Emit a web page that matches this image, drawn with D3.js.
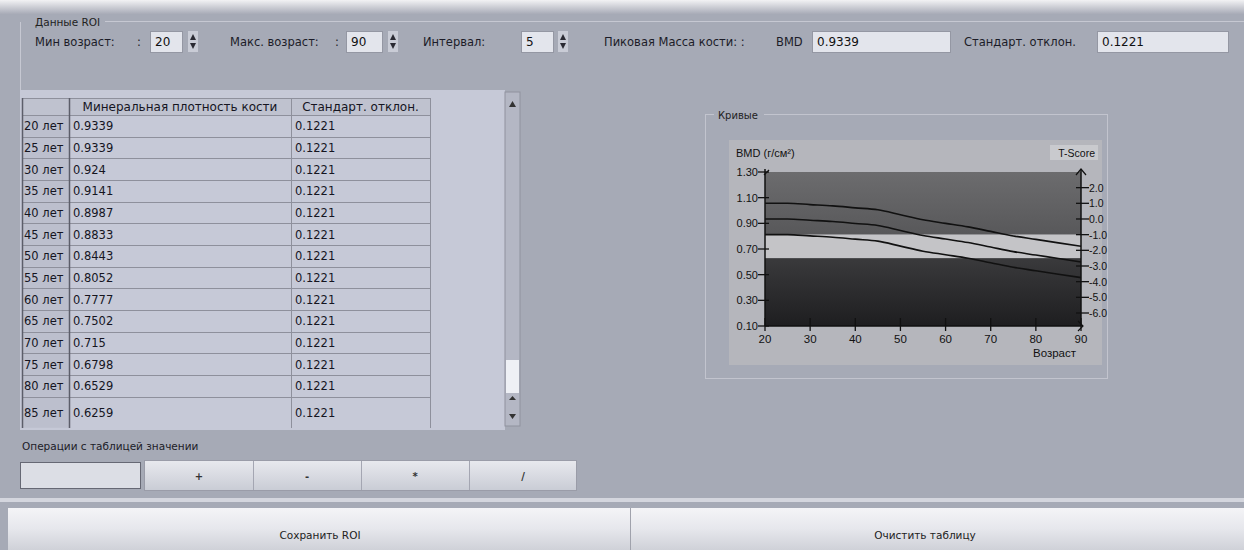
<!DOCTYPE html>
<html><head><meta charset="utf-8">
<script src="https://cdn.jsdelivr.net/npm/d3@7/dist/d3.min.js"></script>
<style>html,body{margin:0;padding:0;background:#a6aab6;overflow:hidden}svg{display:block}</style>
</head><body><svg id="c" width="1244" height="550"></svg>
<script>
// ---------- data ----------
const ages = [20,25,30,35,40,45,50,55,60,65,70,75,80,85,90];
const bmdValues = [0.9339,0.9339,0.924,0.9141,0.8987,0.8833,0.8443,0.8052,0.7777,0.7502,0.715,0.6798,0.6529,0.6259,0.599];
const sdValues = [0.1221,0.1221,0.1221,0.1221,0.1221,0.1221,0.1221,0.1221,0.1221,0.1221,0.1221,0.1221,0.1221,0.1221,0.1221];
const bmdTicks = [0.10,0.30,0.50,0.70,0.90,1.10,1.30];
const ageTicks = [20,30,40,50,60,70,80,90];
const tScoreTicks = [2,1,0,-1,-2,-3,-4,-5,-6];
const tBandLimits = [-1,-2.5];
const sdOffsets = [1,0,-1];
const peakBMD = 0.9339, peakSD = 0.1221;
const minAge = 20, maxAge = 90, ageStep = 5;
const columnHeaders = ["", "Минеральная плотность кости", "Стандарт. отклон."];
const opButtons = ["+", "-", "*", "/"];

const svg = d3.select("#c");
const UI = "DejaVu Sans, Tahoma, sans-serif";
const CH = "Liberation Sans, Arial, sans-serif";
const defs = svg.append("defs");
function grad(id, stops){
  const g = defs.append("linearGradient").attr("id",id).attr("x1",0).attr("y1",0).attr("x2",0).attr("y2",1);
  stops.forEach(s=>g.append("stop").attr("offset",s[0]).attr("stop-color",s[1]));
}
grad("gTop",[[0,"#6c6c6e"],[1,"#58585a"]]);
grad("gLow",[[0,"#3a3a3c"],[1,"#1e1e20"]]);
grad("gBtn",[[0,"#f4f4f7"],[0.5,"#e6e7ec"],[1,"#cfd1d8"]]);
grad("gSeg",[[0,"#e8e9ee"],[1,"#c9ccd5"]]);
grad("gHead",[[0,"#f2f2f4"],[1,"#a8abb7"]]);

// background
svg.append("rect").attr("width",1244).attr("height",550).attr("fill","#a6aab6");
svg.append("rect").attr("width",1244).attr("height",14).attr("fill","url(#gHead)");

// group title
svg.append("text").attr("x",35).attr("y",26).attr("font-family",UI).attr("font-size",10.5).attr("fill","#222").text("Данные ROI");
svg.append("line").attr("x1",105).attr("x2",1244).attr("y1",21.5).attr("y2",21.5).attr("stroke","#c6c8d2");
svg.append("line").attr("x1",20.5).attr("x2",20.5).attr("y1",22).attr("y2",95).attr("stroke","#c6c8d2");

// top row controls
function label(x,y,t,size){svg.append("text").attr("x",x).attr("y",y).attr("font-family",UI).attr("font-size",size||11.5).attr("fill","#1c1c28").text(t);}
function box(x,y,w,h,t){
  svg.append("rect").attr("x",x+.5).attr("y",y+.5).attr("width",w).attr("height",h).attr("fill","#e3e5ec").attr("stroke","#9497a3");
  if(t!==undefined) svg.append("text").attr("x",x+5).attr("y",y+h/2+4.5).attr("font-family",UI).attr("font-size",12).attr("fill","#111").text(t);
}
function spinner(x,y){
  svg.append("rect").attr("x",x).attr("y",y).attr("width",10).attr("height",21).attr("fill","#c9ccd6");
  svg.append("path").attr("d",`M${x+2},${y+9}L${x+5},${y+3}L${x+8},${y+9}Z`).attr("fill","#2a2a33");
  svg.append("path").attr("d",`M${x+2},${y+12}L${x+5},${y+18}L${x+8},${y+12}Z`).attr("fill","#2a2a33");
}
label(35,46,"Мин возраст:"); label(137,46,":");
box(150,31,32,21,String(minAge)); spinner(188,31);
label(230,46,"Макс. возраст:"); label(335,46,":");
box(346,31,36,21,String(maxAge)); spinner(388,31);
label(423,46,"Интервал:");
box(521,31,32,21,String(ageStep)); spinner(558,31);
label(604,46,"Пиковая Масса кости: :");
label(776,46,"BMD");
box(812,31,138,21,String(peakBMD));
label(964,46,"Стандарт. отклон.");
box(1097,31,131,21,String(peakSD));

// ---------- table ----------
const tbl = svg.append("g");
tbl.append("rect").attr("x",20).attr("y",90).attr("width",485).attr("height",340).attr("fill","#c6c9d7");
const colX = [22,69,291,430];
const headerY = 98, headerH = 17, tableBottom = 428;
const rowH = ages.map((a,i)=> i===13 ? 31 : 21.67);
let yy = headerY+headerH; const rowY = rowH.map(h=>{const v=yy; yy+=h; return v;});
defs.append("clipPath").attr("id","tclip").append("rect").attr("x",20).attr("y",90).attr("width",485).attr("height",tableBottom-90);
const tg = tbl.append("g").attr("clip-path","url(#tclip)");
// header
tg.append("rect").attr("x",colX[0]).attr("y",headerY).attr("width",colX[3]-colX[0]).attr("height",headerH).attr("fill","#bfc2cf");
columnHeaders.forEach((h,i)=>{
  tg.append("text").attr("x",(colX[i]+colX[i+1])/2).attr("y",headerY+13).attr("text-anchor","middle")
    .attr("font-family",UI).attr("font-size",12).attr("fill","#15151f").text(h);
});
const idx = d => ages.indexOf(d);
const rows = tg.selectAll("g.row").data(ages).join("g").attr("class","row");
rows.append("rect").attr("x",colX[0]).attr("y",d=>rowY[idx(d)]).attr("width",colX[1]-colX[0]).attr("height",d=>rowH[idx(d)]).attr("fill","#bcbfcd");
const fullRows = rows.filter(d=>rowY[idx(d)]+rowH[idx(d)]<=tableBottom+2);
const ty = d => rowY[idx(d)]+rowH[idx(d)]/2+4.5;
fullRows.append("text").attr("x",colX[0]+2).attr("y",ty).attr("font-family",UI).attr("font-size",11.5).attr("fill","#15151f").text(d=>d+" лет");
fullRows.append("text").attr("x",colX[1]+4).attr("y",ty).attr("font-family",UI).attr("font-size",11.5).attr("fill","#15151f").text(d=>bmdValues[idx(d)]);
fullRows.append("text").attr("x",colX[2]+4).attr("y",ty).attr("font-family",UI).attr("font-size",11.5).attr("fill","#15151f").text(d=>sdValues[idx(d)]);
// grid lines
tg.selectAll("line.h").data([headerY].concat(rowY)).join("line").attr("x1",colX[0]).attr("x2",colX[3])
  .attr("y1",d=>Math.round(d)+.5).attr("y2",d=>Math.round(d)+.5).attr("stroke","#8e909c");
tg.selectAll("line.v").data(colX).join("line").attr("x1",d=>d+.5).attr("x2",d=>d+.5).attr("y1",headerY).attr("y2",430)
  .attr("stroke",(d,i)=>i<2?"#5c5e6a":"#8e909c").attr("stroke-width",(d,i)=>i<2?1.5:1);
// scrollbar
tbl.append("rect").attr("x",505).attr("y",92).attr("width",15).attr("height",334).attr("fill","#b4b7c4").attr("stroke","#8f929e");
tbl.append("rect").attr("x",506).attr("y",360).attr("width",13).attr("height",33).attr("fill","#eef0f5");
tbl.append("path").attr("d","M509,107L512.5,101L516,107Z").attr("fill","#333");
tbl.append("path").attr("d","M509,400L512.5,396L516,400Z M509,414L512.5,419L516,414Z").attr("fill","#333");

// operations
label(22,450,"Операции с таблицей значении",10.5);
svg.append("rect").attr("x",20.5).attr("y",462.5).attr("width",120).attr("height",26).attr("fill","#dcdee5").attr("stroke","#666874");
svg.append("rect").attr("x",144.5).attr("y",460.5).attr("width",432).attr("height",30).attr("fill","url(#gSeg)").attr("stroke","#9a9ca8");
opButtons.forEach((o,i)=>{
  const x0 = 145 + i*108;
  if(i>0) svg.append("line").attr("x1",x0+.5).attr("x2",x0+.5).attr("y1",461).attr("y2",490).attr("stroke","#a4a6b2");
  svg.append("text").attr("x",x0+54).attr("y",480).attr("text-anchor","middle").attr("font-family",UI).attr("font-size",10).attr("font-weight","bold").attr("fill","#333").text(o);
});

// bottom buttons
svg.append("rect").attr("x",0).attr("y",498).attr("width",1244).attr("height",4).attr("fill","#d4d6de");
svg.append("rect").attr("x",8).attr("y",508).attr("width",622).attr("height",42).attr("fill","url(#gBtn)");
svg.append("rect").attr("x",631).attr("y",508).attr("width",613).attr("height",42).attr("fill","url(#gBtn)");
svg.append("line").attr("x1",630.5).attr("x2",630.5).attr("y1",508).attr("y2",550).attr("stroke","#a0a2ac");
svg.append("text").attr("x",320).attr("y",539).attr("text-anchor","middle").attr("font-family",UI).attr("font-size",10.5).attr("fill","#222").text("Сохранить ROI");
svg.append("text").attr("x",925).attr("y",539).attr("text-anchor","middle").attr("font-family",UI).attr("font-size",10.5).attr("fill","#222").text("Очистить таблицу");

// ---------- chart group ----------
svg.append("rect").attr("x",705.5).attr("y",114.5).attr("width",402).attr("height",264).attr("fill","none").attr("stroke","#c2c4ce");
svg.append("rect").attr("x",714).attr("y",108).attr("width",50).attr("height",14).attr("fill","#a6aab6");
svg.append("text").attr("x",718).attr("y",119).attr("font-family",UI).attr("font-size",10).attr("fill","#222").text("Кривые");
svg.append("rect").attr("x",729).attr("y",140).attr("width",373).attr("height",225).attr("fill","#b5b6bc");
svg.append("rect").attr("x",1050).attr("y",145).attr("width",48).attr("height",15).attr("fill","#c9cace");

const x = d3.scaleLinear().domain([minAge,maxAge]).range([765,1081]);
const y = d3.scaleLinear().domain([bmdTicks[0],bmdTicks[bmdTicks.length-1]]).range([326,172]);
const t = d3.scaleLinear().domain(y.domain().map(v=>(v-peakBMD)/peakSD)).range(y.range());
const [yMin,yMax] = y.domain();
const b1 = peakBMD + tBandLimits[0]*peakSD, b2 = peakBMD + tBandLimits[1]*peakSD;
const bands = [[b1,yMax,"url(#gTop)"],[b2,b1,"#c4c4c7"],[yMin,b2,"url(#gLow)"]];
svg.append("g").selectAll("rect").data(bands).join("rect")
  .attr("x",x(minAge)).attr("width",x(maxAge)-x(minAge))
  .attr("y",d=>y(d[1])).attr("height",d=>y(d[0])-y(d[1])).attr("fill",d=>d[2]);

const line = d3.line().x(d=>x(d[0])).y(d=>y(d[1])).curve(d3.curveMonotoneX);
svg.append("g").selectAll("path").data(sdOffsets).join("path")
  .attr("d",k=>line(ages.map((a,i)=>[a,bmdValues[i]+k*sdValues[i]])))
  .attr("fill","none").attr("stroke","#111").attr("stroke-width",1.6);

// axes
const ax = svg.append("g").attr("font-family",CH).attr("fill","#111");
const axisColor = "#111";
ax.append("line").attr("x1",x(minAge)).attr("x2",x(minAge)).attr("y1",y(yMin)).attr("y2",y(yMax)-3).attr("stroke",axisColor).attr("stroke-width",1.5);
ax.append("path").attr("d",`M${x(minAge)-1},${y(yMax)+3}L${x(minAge)+4},${y(yMax)-2}`).attr("stroke",axisColor).attr("fill","none").attr("stroke-width",1.2);
ax.append("line").attr("x1",x(maxAge)).attr("x2",x(maxAge)).attr("y1",y(yMin)).attr("y2",y(yMax)-3).attr("stroke",axisColor).attr("stroke-width",1.5);
ax.append("path").attr("d",`M${x(maxAge)-5},${y(yMax)+3}L${x(maxAge)},${y(yMax)-3}L${x(maxAge)+5},${y(yMax)+3}`).attr("stroke",axisColor).attr("fill","none").attr("stroke-width",1.2);
ax.append("line").attr("x1",x(minAge)).attr("x2",x(maxAge)+2).attr("y1",y(yMin)).attr("y2",y(yMin)).attr("stroke",axisColor).attr("stroke-width",1.5);
ax.append("path").attr("d",`M${x(maxAge)-3},${y(yMin)-5}L${x(maxAge)+2},${y(yMin)}L${x(maxAge)-3},${y(yMin)+5}`).attr("stroke",axisColor).attr("fill","none").attr("stroke-width",1.2);

ax.selectAll("line.yt").data(bmdTicks).join("line").attr("x1",x(minAge)-7).attr("x2",x(minAge)+4)
  .attr("y1",d=>y(d)).attr("y2",d=>y(d)).attr("stroke",axisColor).attr("stroke-width",1.3);
ax.selectAll("text.yl").data(bmdTicks).join("text").attr("x",x(minAge)-7).attr("y",d=>y(d)+4)
  .attr("text-anchor","end").attr("font-size",11).text(d3.format(".2f"));
ax.selectAll("line.xt").data(ageTicks).join("line").attr("x1",d=>x(d)).attr("x2",d=>x(d))
  .attr("y1",y(yMin)-8).attr("y2",y(yMin)+5).attr("stroke",axisColor).attr("stroke-width",1.3);
ax.selectAll("text.xl").data(ageTicks).join("text").attr("x",d=>x(d)).attr("y",y(yMin)+17)
  .attr("text-anchor","middle").attr("font-size",11.5).text(d=>d);
ax.append("text").attr("x",x(maxAge)-5).attr("y",y(yMin)+31).attr("text-anchor","end").attr("font-size",11.5).text("Возраст");
ax.selectAll("line.tt").data(tScoreTicks).join("line").attr("x1",x(maxAge)-5).attr("x2",x(maxAge)+8)
  .attr("y1",d=>t(d)).attr("y2",d=>t(d)).attr("stroke",axisColor).attr("stroke-width",1.3);
ax.selectAll("text.tl").data(tScoreTicks).join("text").attr("x",x(maxAge)+8).attr("y",d=>t(d)+4)
  .attr("font-size",10.5).text(d=>d3.format(".1f")(d).replace("−","-"));
ax.append("text").attr("x",736).attr("y",157).attr("font-size",11).text("BMD (г/см²)");
ax.append("text").attr("x",1095).attr("y",157).attr("text-anchor","end").attr("font-size",10.5).text("T-Score");
</script></body></html>
